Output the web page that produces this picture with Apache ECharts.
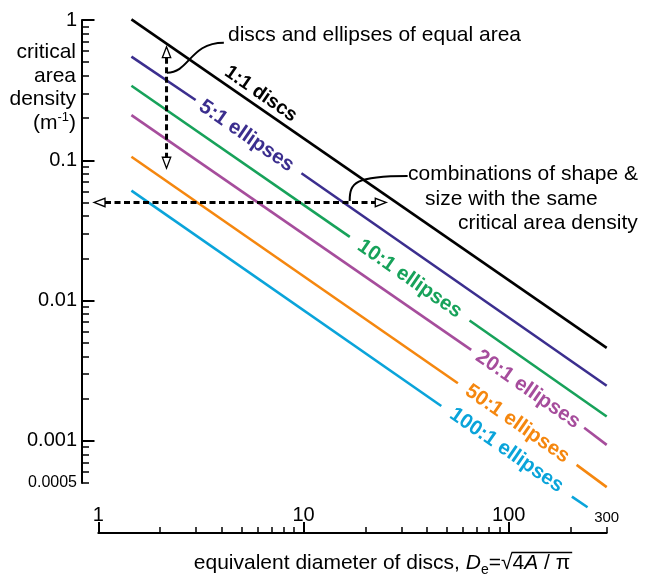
<!DOCTYPE html>
<html><head><meta charset="utf-8">
<script src="https://cdn.jsdelivr.net/npm/echarts@6/dist/echarts.min.js"></script>
<style>html,body{margin:0;padding:0;background:#fff}#c{width:646px;height:577px}</style>
</head><body><div id="c"></div>
<script>
const FONT = '"Liberation Sans", Arial, Helvetica, sans-serif';

// ---------- axes ----------
const xMin = 1, xMax = 300;
const yMin = 0.0005, yMax = 1;
const xMajorTicks = [1, 10, 100];
const xMinorTicks = [2, 3, 4, 5, 6, 7, 8, 9, 20, 30, 40, 50, 60, 70, 80, 90, 200, 300];
const xTickLabels = [1, 10, 100, 300];
const yMajorTicks = [0.001, 0.01, 0.1, 1];
const yMinorTicks = [0.0005, 0.0006, 0.0007, 0.0008, 0.0009,
  0.002, 0.003, 0.004, 0.005, 0.006, 0.007, 0.008, 0.009,
  0.02, 0.03, 0.04, 0.05, 0.06, 0.07, 0.08, 0.09,
  0.2, 0.3, 0.4, 0.5, 0.6, 0.7, 0.8, 0.9];
const yTickLabels = [0.0005, 0.001, 0.01, 0.1, 1];

// ---------- series (segments; gaps hold the labels) ----------
const lineNames = ['1:1 discs', '5:1 ellipses', '10:1 ellipses', '20:1 ellipses', '50:1 ellipses', '100:1 ellipses'];
const lineColors = ['#000000', '#3b2e8e', '#17a25a', '#a64d9c', '#f5870f', '#0aa4da'];
const discs1to1 = [[[1.45, 1.01], [300, 0.0046]]];
const ellipses5to1 = [[[1.45, 0.548], [2.98, 0.269]], [[9.77, 0.0808], [300, 0.00247]]];
const ellipses10to1 = [[[1.45, 0.340], [16.8, 0.0284]], [[64.4, 0.0072], [300, 0.00149]]];
const ellipses20to1 = [[[1.45, 0.210], [65.6, 0.00445]], [[233, 0.00124], [300, 0.000935]]];
const ellipses50to1 = [[[1.45, 0.106], [56.5, 0.00257]], [[214, 0.000673], [300, 0.000467]]];
const ellipses100to1 = [[[1.45, 0.0607], [46.9, 0.00177]], [[203, 0.0004], [242, 0.000336]]];
const labelAnchors = [[6.19, 0.297], [5.27, 0.149], [32.9, 0.01426], [123.9, 0.002325], [110, 0.001322], [97.5, 0.000856]];

// ---------- annotations (data coordinates) ----------
const equalAreaArrow = [2.15, 0.645, 2.15, 0.0877];
const sameDensityArrow = [0.953, 0.05, 25.3, 0.05];
const equalAreaConnector = [4.09, 0.689, 2.79, 0.689, 2.79, 0.421, 2.16, 0.421];
const sameDensityConnector = [32.15, 0.0773, 17.75, 0.0773, 16.78, 0.0689, 16.78, 0.0513];

const lineSets = [discs1to1, ellipses5to1, ellipses10to1, ellipses20to1, ellipses50to1, ellipses100to1];

const chart = echarts.init(document.getElementById('c'), null, {renderer: 'canvas'});

function fmt(v) {
  if (Math.abs(v - 0.0005) < 1e-9) return '{s|0.0005}';
  if (Math.abs(v - 300) < 1e-6) return '{s|300}';
  return String(Number(v.toPrecision(6)));
}

const series = [];
lineSets.forEach((segs, i) => {
  segs.forEach(seg => {
    series.push({
      type: 'line', data: seg, symbol: 'none', clip: false, silent: true, z: 2,
      lineStyle: {color: lineColors[i], width: 2.6}, itemStyle: {color: lineColors[i]}
    });
  });
});
series.push({
  type: 'scatter', symbolSize: 0, silent: true, z: 4, clip: false,
  itemStyle: {opacity: 1},
  data: labelAnchors.map((v, i) => ({
    value: v, name: lineNames[i],
    itemStyle: {color: lineColors[i], opacity: 1},
    label: {color: lineColors[i], fontSize: i === 0 ? 19.5 : 20.5}
  })),
  label: {show: true, position: 'inside', formatter: '{b}', rotate: -34.7, opacity: 1,
    textBorderWidth: 0, textBorderColor: 'transparent',
    fontFamily: FONT, fontWeight: 'bold', align: 'center', verticalAlign: 'middle'}
});

function renderArrow(params, api) {
  const p1 = api.coord([api.value(0), api.value(1)]);
  const p2 = api.coord([api.value(2), api.value(3)]);
  const dx = p2[0] - p1[0], dy = p2[1] - p1[1];
  const len = Math.hypot(dx, dy);
  const ux = dx / len, uy = dy / len, nx = -uy, ny = ux;
  const L = 11, W = 4.2;
  const b1 = [p1[0] + ux * L, p1[1] + uy * L];
  const b2 = [p2[0] - ux * L, p2[1] - uy * L];
  const head = (tip, b) => ({
    type: 'polygon',
    shape: {points: [tip, [b[0] + nx * W, b[1] + ny * W], [b[0] - nx * W, b[1] - ny * W]]},
    style: {fill: '#fff', stroke: '#000', lineWidth: 1.3}
  });
  return {type: 'group', children: [
    {type: 'line', shape: {x1: b1[0], y1: b1[1], x2: b2[0], y2: b2[1]},
      style: {stroke: '#000', lineWidth: 3, lineDash: [6, 3.5], fill: null}},
    head(p1, b1), head(p2, b2)
  ]};
}
function renderConnector(params, api) {
  const p = [0, 1, 2, 3].map(k => api.coord([api.value(2 * k), api.value(2 * k + 1)]));
  return {type: 'bezierCurve',
    shape: {x1: p[0][0], y1: p[0][1], cpx1: p[1][0], cpy1: p[1][1], cpx2: p[2][0], cpy2: p[2][1], x2: p[3][0], y2: p[3][1]},
    style: {stroke: '#000', lineWidth: 2, fill: null}};
}
series.push({type: 'custom', renderItem: renderArrow, clip: false, silent: true, z: 5,
  encode: {x: [0, 2], y: [1, 3]}, data: [equalAreaArrow, sameDensityArrow]});
series.push({type: 'custom', renderItem: renderConnector, clip: false, silent: true, z: 5,
  encode: {x: [0, 2, 4, 6], y: [1, 3, 5, 7]}, data: [equalAreaConnector, sameDensityConnector]});

// ---------- text graphics ----------
const mctx = document.createElement('canvas').getContext('2d');
function tw(text, font) { mctx.font = font; return mctx.measureText(text).width; }
const MID = 0.3465; // canvas 'middle' above alphabetic baseline (em)
function txt(text, x, baseline, size, opt) {
  opt = opt || {};
  const font = (opt.italic ? 'italic ' : '') + size + 'px ' + FONT;
  return {type: 'text', x: x, y: baseline - MID * size, silent: true, z: 10,
    style: {text: text, font: font, fill: '#000', align: opt.align || 'left', verticalAlign: 'middle',
      textAlign: opt.align || 'left', textVerticalAlign: 'middle'}};
}
const graphics = [];
// y axis title
const yt = ['critical', 'area', 'density'];
const ytBase = [59.5, 83, 106.5];
yt.forEach((t, i) => graphics.push(txt(t, 76, ytBase[i], 21, {align: 'right'})));
{
  const b = 130, right = 76;
  const wParen = tw(')', '21px ' + FONT);
  const wSup = tw('-1', '13px ' + FONT);
  graphics.push(txt(')', right, b, 21, {align: 'right'}));
  graphics.push(txt('-1', right - wParen, b - 8, 13, {align: 'right'}));
  graphics.push(txt('(m', right - wParen - wSup, b, 21, {align: 'right'}));
}
// annotations
graphics.push(txt('discs and ellipses of equal area', 228, 42, 21));
graphics.push(txt('combinations of shape &', 408, 181.5, 21));
graphics.push(txt('size with the same', 425, 206.5, 21));
graphics.push(txt('critical area density', 458, 230, 21));
// x axis title
{
  const B = 570, fs = 21;
  const segs = [
    {t: 'equivalent diameter of discs, ', s: fs},
    {t: 'D', s: fs, italic: true},
    {t: 'e', s: 14, dy: 5},
    {t: '=', s: fs},
    {t: '\u221A', s: fs},
    {t: '4', s: fs, ov: true},
    {t: 'A', s: fs, italic: true, ov: true},
    {t: ' / \u03C0', s: fs, ov: true}
  ];
  segs.forEach(s => s.w = tw(s.t, (s.italic ? 'italic ' : '') + s.s + 'px ' + FONT));
  const total = segs.reduce((a, s) => a + s.w, 0);
  let x = 382 - total / 2, ovStart = null, ovEnd = null;
  segs.forEach(s => {
    graphics.push(txt(s.t, x, B + (s.dy || 0), s.s, {italic: s.italic}));
    if (s.ov && ovStart === null) ovStart = x;
    x += s.w;
    if (s.ov) ovEnd = x;
  });
  graphics.push({type: 'line', silent: true, z: 10,
    shape: {x1: ovStart - 1, y1: B - 0.83 * fs, x2: ovEnd + 2, y2: B - 0.83 * fs},
    style: {stroke: '#000', lineWidth: 1.4}});
}

const axisFont = {fontFamily: FONT, fontSize: 20, color: '#000'};
const option = {
  animation: false,
  backgroundColor: '#fff',
  grid: {left: 98.3, right: 39.3, top: 20, bottom: 94, containLabel: false, outerBoundsMode: 'none'},
  xAxis: [
    {type: 'log', min: xMin, max: xMax, position: 'bottom', offset: 50,
      axisLine: {show: true, lineStyle: {color: '#000', width: 2}},
      axisTick: {show: true, inside: true, length: 11, customValues: xMajorTicks, lineStyle: {color: '#000', width: 2}},
      minorTick: {show: false}, splitLine: {show: false},
      axisLabel: Object.assign({show: true, inside: true, margin: 8, customValues: xTickLabels, formatter: fmt,
        rich: {s: {fontSize: 15, fontFamily: FONT, color: '#000'}}}, axisFont)},
    {type: 'log', min: xMin, max: xMax, position: 'bottom', offset: 50,
      axisLine: {show: false},
      axisTick: {show: true, inside: true, length: 6, customValues: xMinorTicks, lineStyle: {color: '#000', width: 1.5}},
      axisLabel: {show: false}, splitLine: {show: false}}
  ],
  yAxis: [
    {type: 'log', min: yMin, max: yMax, position: 'left', offset: 16.3,
      axisLine: {show: true, lineStyle: {color: '#000', width: 2}},
      axisTick: {show: true, inside: true, length: 12.5, customValues: yMajorTicks, lineStyle: {color: '#000', width: 2}},
      minorTick: {show: false}, splitLine: {show: false},
      axisLabel: Object.assign({show: true, margin: 5, customValues: yTickLabels, formatter: fmt,
        rich: {s: {fontSize: 16, fontFamily: FONT, color: '#000'}}}, axisFont)},
    {type: 'log', min: yMin, max: yMax, position: 'left', offset: 16.3,
      axisLine: {show: false},
      axisTick: {show: true, inside: true, length: 7, customValues: yMinorTicks, lineStyle: {color: '#000', width: 1.5}},
      axisLabel: {show: false}, splitLine: {show: false}}
  ],
  series: series,
  graphic: graphics
};
chart.setOption(option);
</script></body></html>
